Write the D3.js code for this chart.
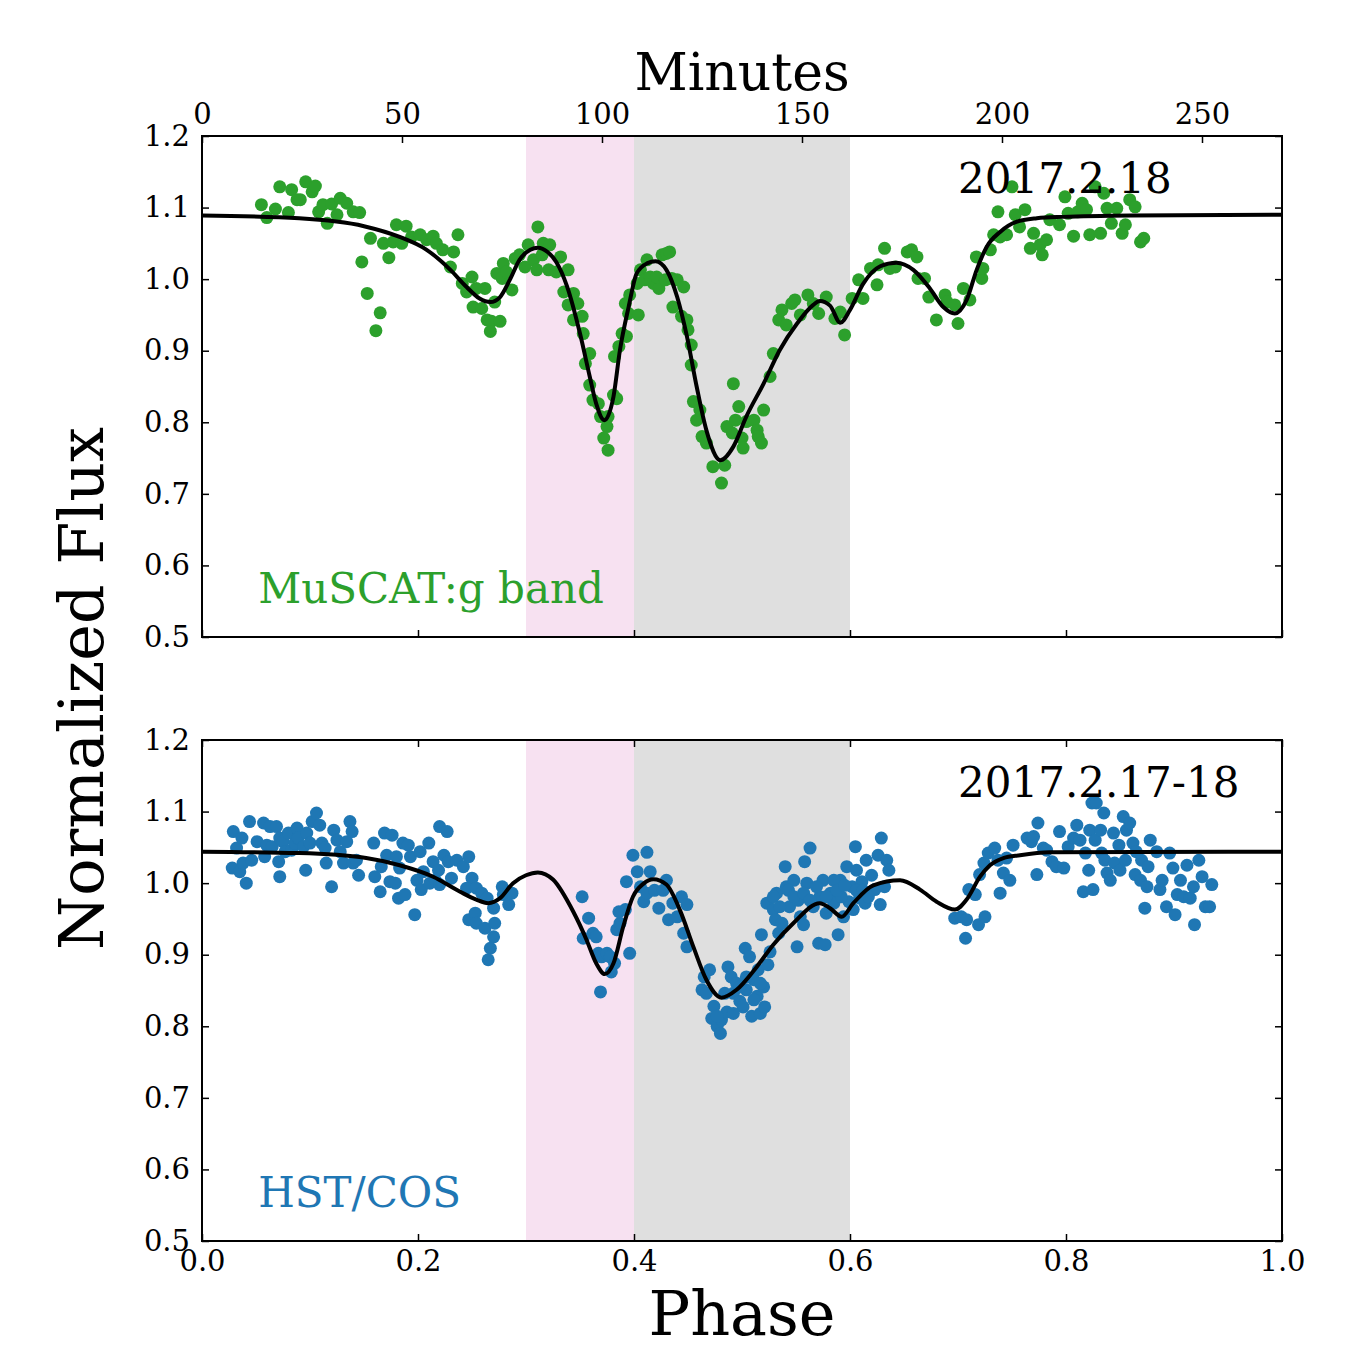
<!DOCTYPE html>
<html>
<head>
<meta charset="utf-8">
<script src="https://cdn.jsdelivr.net/npm/d3@7"></script>
<style>
  body { margin: 0; background: #fff; }
  text { font-family: "DejaVu Serif", serif; }
</style>
</head>
<body>
<svg id="chart" width="1350" height="1350"></svg>
<script>
// ---- chart values (phase, normalized flux) ----
var phaseTicks = [0.0, 0.2, 0.4, 0.6, 0.8, 1.0];
var minuteTicks = [0, 50, 100, 150, 200, 250];
var fluxTicks = [0.5, 0.6, 0.7, 0.8, 0.9, 1.0, 1.1, 1.2];
var pinkSpan = [0.3, 0.4];
var greySpan = [0.4, 0.6];

// MuSCAT g band photometry
var greenPoints = [[0.055,1.104],[0.060,1.086],[0.068,1.098],[0.072,1.129],[0.080,1.093],[0.083,1.125],[0.088,1.111],[0.091,1.111],[0.096,1.136],[0.102,1.122],[0.105,1.130],[0.108,1.094],[0.112,1.104],[0.116,1.078],[0.120,1.105],[0.125,1.090],[0.128,1.113],[0.134,1.106],[0.140,1.094],[0.146,1.093],[0.148,1.024],[0.156,1.057],[0.153,0.980],[0.165,0.953],[0.161,0.928],[0.168,1.050],[0.173,1.030],[0.177,1.052],[0.180,1.076],[0.185,1.050],[0.189,1.074],[0.194,1.059],[0.202,1.062],[0.208,1.055],[0.214,1.060],[0.217,1.050],[0.223,1.041],[0.233,1.038],[0.237,1.062],[0.230,1.017],[0.241,0.994],[0.250,1.003],[0.245,0.982],[0.254,0.987],[0.262,0.987],[0.251,0.961],[0.259,0.959],[0.264,0.943],[0.268,0.941],[0.267,0.927],[0.276,0.941],[0.271,0.968],[0.273,1.008],[0.278,1.001],[0.279,1.022],[0.287,0.985],[0.290,1.029],[0.294,1.034],[0.299,1.017],[0.302,1.048],[0.307,1.027],[0.310,1.013],[0.311,1.073],[0.316,1.050],[0.322,1.048],[0.321,1.013],[0.332,1.031],[0.328,1.010],[0.315,1.034],[0.282,1.010],[0.339,1.013],[0.335,0.982],[0.344,0.980],[0.339,0.964],[0.348,0.966],[0.344,0.943],[0.352,0.948],[0.353,0.924],[0.359,0.896],[0.355,0.882],[0.359,0.852],[0.362,0.831],[0.367,0.826],[0.369,0.808],[0.376,0.808],[0.375,0.794],[0.372,0.778],[0.376,0.761],[0.381,0.838],[0.384,0.833],[0.382,0.892],[0.386,0.906],[0.389,0.924],[0.393,0.920],[0.392,0.966],[0.396,0.978],[0.395,0.952],[0.404,0.950],[0.403,0.994],[0.406,1.013],[0.412,1.027],[0.410,0.999],[0.415,1.003],[0.418,0.994],[0.423,0.987],[0.421,1.003],[0.426,1.034],[0.430,1.036],[0.433,1.038],[0.429,0.999],[0.435,1.001],[0.440,0.999],[0.446,0.989],[0.436,0.961],[0.444,0.948],[0.449,0.943],[0.450,0.929],[0.453,0.908],[0.453,0.880],[0.455,0.829],[0.458,0.803],[0.461,0.817],[0.463,0.780],[0.467,0.771],[0.473,0.738],[0.481,0.715],[0.484,0.740],[0.486,0.794],[0.491,0.785],[0.492,0.854],[0.494,0.803],[0.497,0.822],[0.500,0.778],[0.501,0.764],[0.504,0.801],[0.511,0.803],[0.514,0.789],[0.515,0.780],[0.518,0.771],[0.520,0.817],[0.526,0.864],[0.529,0.896],[0.534,0.943],[0.537,0.957],[0.541,0.936],[0.546,0.966],[0.549,0.971],[0.554,0.950],[0.561,0.978],[0.566,0.966],[0.571,0.952],[0.578,0.975],[0.586,0.945],[0.591,0.954],[0.595,0.922],[0.602,0.973],[0.608,0.999],[0.612,0.973],[0.619,1.015],[0.625,0.992],[0.632,1.043],[0.626,1.020],[0.637,1.015],[0.642,1.017],[0.653,1.038],[0.657,1.041],[0.662,1.031],[0.663,1.001],[0.669,1.001],[0.673,0.975],[0.680,0.943],[0.688,0.978],[0.690,0.968],[0.697,0.964],[0.700,0.938],[0.705,0.987],[0.711,0.971],[0.722,1.001],[0.723,1.015],[0.717,1.031],[0.730,1.041],[0.733,1.062],[0.739,1.059],[0.737,1.094],[0.745,1.062],[0.750,1.129],[0.753,1.090],[0.757,1.073],[0.762,1.097],[0.767,1.043],[0.770,1.064],[0.776,1.048],[0.778,1.034],[0.782,1.055],[0.785,1.083],[0.794,1.076],[0.799,1.115],[0.802,1.092],[0.807,1.060],[0.811,1.094],[0.815,1.106],[0.819,1.097],[0.822,1.062],[0.827,1.129],[0.832,1.064],[0.835,1.120],[0.838,1.099],[0.842,1.078],[0.847,1.099],[0.852,1.064],[0.855,1.076],[0.859,1.111],[0.864,1.101],[0.869,1.052],[0.872,1.057]];

// HST/COS light curve
var bluePoints = [[0.029,1.072],[0.032,1.049],[0.028,1.021],[0.035,1.016],[0.041,1.000],[0.037,1.063],[0.038,1.028],[0.044,1.086],[0.046,1.032],[0.051,1.058],[0.057,1.084],[0.058,1.037],[0.060,1.053],[0.065,1.051],[0.063,1.079],[0.069,1.079],[0.071,1.030],[0.072,1.009],[0.072,1.063],[0.075,1.058],[0.077,1.044],[0.080,1.070],[0.083,1.046],[0.088,1.077],[0.086,1.056],[0.089,1.063],[0.094,1.051],[0.097,1.070],[0.096,1.018],[0.100,1.056],[0.102,1.086],[0.106,1.098],[0.109,1.081],[0.111,1.056],[0.114,1.049],[0.115,1.028],[0.120,0.995],[0.122,1.074],[0.125,1.060],[0.128,1.044],[0.131,1.028],[0.134,1.058],[0.137,1.086],[0.139,1.072],[0.140,1.028],[0.145,1.011],[0.143,1.032],[0.159,1.056],[0.160,1.009],[0.165,0.988],[0.166,1.023],[0.169,1.070],[0.171,1.039],[0.174,1.002],[0.176,1.067],[0.179,1.000],[0.180,1.037],[0.182,0.979],[0.183,1.021],[0.186,1.056],[0.188,0.984],[0.191,1.053],[0.193,1.037],[0.197,0.956],[0.199,1.004],[0.202,1.044],[0.203,0.991],[0.205,1.016],[0.210,1.056],[0.211,1.000],[0.214,1.030],[0.216,1.004],[0.219,1.018],[0.220,1.079],[0.220,0.998],[0.227,1.072],[0.224,1.039],[0.228,1.030],[0.231,1.007],[0.236,1.032],[0.242,1.023],[0.247,1.037],[0.250,1.007],[0.245,0.993],[0.254,0.993],[0.259,0.986],[0.247,0.949],[0.253,0.958],[0.254,0.944],[0.262,0.937],[0.264,0.979],[0.270,0.965],[0.271,0.944],[0.270,0.925],[0.267,0.909],[0.265,0.893],[0.278,0.995],[0.279,0.984],[0.284,0.970],[0.287,0.986],
  [0.352,0.981],[0.358,0.951],[0.353,0.923],[0.362,0.930],[0.365,0.925],[0.367,0.902],[0.370,0.897],[0.375,0.902],[0.378,0.897],[0.379,0.876],[0.382,0.888],[0.369,0.848],[0.384,0.935],[0.387,0.944],[0.386,0.960],[0.392,0.963],[0.396,0.902],[0.393,1.002],[0.399,1.039],[0.403,1.016],[0.412,1.043],[0.406,0.995],[0.409,0.974],[0.412,0.986],[0.415,1.016],[0.419,0.990],[0.423,0.965],[0.427,0.990],[0.430,1.004],[0.432,0.949],[0.436,0.972],[0.440,0.953],[0.444,0.981],[0.449,0.970],[0.446,0.930],[0.449,0.911],[0.463,0.851],[0.465,0.869],[0.467,0.846],[0.470,0.879],[0.472,0.811],[0.477,0.800],[0.480,0.790],[0.481,0.809],[0.486,0.820],[0.487,0.883],[0.490,0.869],[0.492,0.846],[0.495,0.860],[0.498,0.835],[0.501,0.827],[0.503,0.909],[0.504,0.851],[0.507,0.897],[0.509,0.814],[0.511,0.865],[0.514,0.842],[0.515,0.879],[0.517,0.818],[0.518,0.928],[0.520,0.855],[0.521,0.827],[0.523,0.972],[0.524,0.886],[0.526,0.904],[0.529,0.963],[0.531,0.949],[0.532,0.986],[0.534,0.930],[0.537,0.944],[0.540,1.023],[0.541,0.995],[0.544,0.967],[0.548,1.004],[0.551,0.911],[0.552,0.976],[0.554,0.953],[0.557,0.942],[0.558,1.030],[0.560,1.000],[0.563,1.049],[0.566,0.967],[0.571,0.916],[0.572,0.981],[0.575,1.004],[0.577,0.914],[0.578,0.958],[0.582,0.986],[0.585,0.972],[0.589,0.928],[0.591,1.004],[0.594,0.953],[0.597,1.023],[0.599,0.974],[0.602,0.995],[0.605,1.051],[0.606,1.018],[0.609,0.979],[0.611,1.002],[0.614,0.972],[0.615,1.032],[0.620,1.011],[0.623,0.991],[0.626,1.039],[0.628,0.970],[0.629,1.063],[0.632,0.995],[0.634,1.032],[0.636,1.018],[0.585,1.004],[0.592,0.981],[0.603,0.963],
  [0.529,0.981],[0.535,0.967],[0.543,0.990],[0.548,0.981],[0.557,0.986],[0.563,0.976],[0.569,0.995],[0.578,0.981],[0.588,0.990],[0.595,0.997],[0.606,0.990],[0.612,0.990],[0.617,0.981],[0.498,0.855],[0.504,0.869],[0.511,0.837],[0.517,0.860],[0.492,0.818],[0.484,0.846],[0.474,0.828],[0.477,0.814],
  [0.697,0.951],[0.707,0.923],[0.703,0.953],[0.708,0.949],[0.719,0.942],[0.725,0.953],[0.710,0.991],[0.716,0.984],[0.720,1.012],[0.724,1.028],[0.728,1.042],[0.734,1.049],[0.737,1.032],[0.742,1.014],[0.739,0.986],[0.748,1.004],[0.745,1.035],[0.751,1.053],[0.764,1.063],[0.768,1.058],[0.770,1.065],[0.773,1.012],[0.774,1.084],[0.779,1.049],[0.782,1.046],[0.787,1.030],[0.791,1.023],[0.794,1.072],[0.798,1.021],[0.802,1.051],[0.807,1.063],[0.810,1.081],[0.813,1.060],[0.816,0.988],[0.818,1.042],[0.821,1.018],[0.822,1.074],[0.825,0.991],[0.827,1.060],[0.832,1.074],[0.833,1.042],[0.835,1.098],[0.836,1.032],[0.838,1.014],[0.841,1.004],[0.844,1.070],[0.845,1.028],[0.849,1.053],[0.850,1.018],[0.853,1.093],[0.855,1.032],[0.856,1.074],[0.859,1.084],[0.862,1.056],[0.864,1.012],[0.865,1.044],[0.869,1.004],[0.870,1.032],[0.873,0.965],[0.875,0.995],[0.876,1.023],[0.878,1.060],[0.884,1.044],[0.887,0.991],[0.889,1.004],[0.893,0.967],[0.896,1.042],[0.899,1.021],[0.901,0.956],[0.903,0.984],[0.906,1.004],[0.909,0.981],[0.912,1.025],[0.915,0.979],[0.918,0.995],[0.919,0.942],[0.923,1.032],[0.926,1.009],[0.929,0.967],[0.933,0.967],[0.935,0.998],[0.824,1.112],[0.828,1.112]];

// model light curves
var greenModel = [[0,1.089],[0.09,1.085],[0.15,1.074],[0.183,1.059],[0.208,1.041],[0.23,1.013],[0.245,0.989],[0.257,0.973],[0.267,0.968],[0.276,0.975],[0.285,0.999],[0.294,1.027],[0.304,1.041],[0.311,1.044],[0.32,1.038],[0.328,1.024],[0.338,0.99],[0.35,0.924],[0.359,0.864],[0.365,0.826],[0.3725,0.803],[0.381,0.836],[0.387,0.901],[0.395,0.961],[0.4025,1.008],[0.412,1.022],[0.42,1.025],[0.43,1.013],[0.44,0.975],[0.449,0.92],[0.458,0.85],[0.467,0.789],[0.48,0.747],[0.492,0.766],[0.504,0.808],[0.52,0.854],[0.535,0.901],[0.551,0.938],[0.566,0.964],[0.572,0.9695],[0.5815,0.963],[0.591,0.939],[0.6,0.957],[0.612,0.993],[0.628,1.018],[0.643,1.023],[0.6586,1.013],[0.674,0.987],[0.6864,0.961],[0.697,0.952],[0.708,0.971],[0.7173,1.013],[0.7265,1.045],[0.739,1.066],[0.754,1.080],[0.773,1.085],[0.797,1.087],[0.86,1.089],[1.0,1.090]];
var blueModel = [[0,1.044],[0.09,1.042],[0.152,1.035],[0.183,1.025],[0.214,1.009],[0.239,0.988],[0.254,0.977],[0.265,0.972],[0.276,0.979],[0.288,1.000],[0.3,1.011],[0.311,1.015],[0.325,1.005],[0.3438,0.960],[0.356,0.921],[0.365,0.888],[0.373,0.873],[0.381,0.888],[0.390,0.939],[0.399,0.981],[0.4086,0.999],[0.418,1.0054],[0.43,0.998],[0.4426,0.962],[0.455,0.911],[0.467,0.865],[0.481,0.840],[0.495,0.851],[0.5136,0.883],[0.529,0.914],[0.5475,0.944],[0.572,0.972],[0.5815,0.965],[0.5923,0.953],[0.6031,0.972],[0.6216,0.997],[0.6463,1.004],[0.6648,0.991],[0.6802,0.974],[0.6972,0.963],[0.708,0.977],[0.7204,1.009],[0.7296,1.025],[0.742,1.035],[0.7574,1.039],[0.785,1.043],[0.95,1.044],[1.0,1.044]];

// ---- layout ----
var svg = d3.select('#chart');
var plotLeft = 202, plotRight = 1282;

var xScale = d3.scaleLinear().domain([0, 1]).range([plotLeft, plotRight]);
var minuteScale = d3.scaleLinear().domain([0, 270]).range([plotLeft, plotRight]);

var panels = [
  {top: 136, bottom: 637, points: greenPoints, model: greenModel, color: '#2ca02c',
   band: 'MuSCAT:g band', date: '2017.2.18', topAxis: 'minutes', bottomLabels: false},
  {top: 740, bottom: 1241, points: bluePoints, model: blueModel, color: '#1f77b4',
   band: 'HST/COS', date: '2017.2.17-18', topAxis: 'phase', bottomLabels: true}
];

var tickFont = '29px';

function styleAxis(g) {
  g.select('.domain').remove();
  g.selectAll('.tick line').attr('stroke', '#000').attr('stroke-width', 1.5);
  g.selectAll('.tick text')
    .attr('fill', '#000')
    .style('font-family', '"DejaVu Serif", serif')
    .style('font-size', tickFont);
}

panels.forEach(function (p) {
  var yScale = d3.scaleLinear().domain([0.5, 1.2]).range([p.bottom, p.top]);
  var g = svg.append('g');

  // shaded phase intervals
  g.append('rect')
    .attr('x', xScale(pinkSpan[0]))
    .attr('y', p.top)
    .attr('width', xScale(pinkSpan[1]) - xScale(pinkSpan[0]))
    .attr('height', p.bottom - p.top)
    .attr('fill', '#f7e1f1');
  g.append('rect')
    .attr('x', xScale(greySpan[0]))
    .attr('y', p.top)
    .attr('width', xScale(greySpan[1]) - xScale(greySpan[0]))
    .attr('height', p.bottom - p.top)
    .attr('fill', '#dfdfdf');

  // data points
  g.append('g').selectAll('circle')
    .data(p.points)
    .enter()
    .append('circle')
    .attr('cx', function (d) { return xScale(d[0]); })
    .attr('cy', function (d) { return yScale(d[1]); })
    .attr('r', 6.5)
    .attr('fill', p.color);

  // model curve
  var lineGenerator = d3.line()
    .x(function (d) { return xScale(d[0]); })
    .y(function (d) { return yScale(d[1]); })
    .curve(d3.curveMonotoneX);

  g.append('path')
    .attr('d', lineGenerator(p.model))
    .attr('fill', 'none')
    .attr('stroke', '#000')
    .attr('stroke-width', 4);

  // axes, ticks pointing inward
  g.append('g')
    .attr('transform', 'translate(' + plotLeft + ',0)')
    .call(d3.axisLeft(yScale).tickValues(fluxTicks).tickFormat(d3.format('.1f'))
      .tickSizeInner(-7).tickSizeOuter(0).tickPadding(12))
    .call(styleAxis);

  g.append('g')
    .attr('transform', 'translate(' + plotRight + ',0)')
    .call(d3.axisRight(yScale).tickValues(fluxTicks).tickFormat('')
      .tickSizeInner(-7).tickSizeOuter(0))
    .call(styleAxis);

  var topAxis = p.topAxis === 'minutes'
    ? d3.axisTop(minuteScale).tickValues(minuteTicks).tickFormat(d3.format('d')).tickPadding(12)
    : d3.axisTop(xScale).tickValues(phaseTicks).tickFormat('');
  g.append('g')
    .attr('transform', 'translate(0,' + p.top + ')')
    .call(topAxis.tickSizeInner(-7).tickSizeOuter(0))
    .call(styleAxis);

  var bottomAxis = d3.axisBottom(xScale).tickValues(phaseTicks)
    .tickFormat(p.bottomLabels ? d3.format('.1f') : '')
    .tickSizeInner(-7).tickSizeOuter(0).tickPadding(9);
  g.append('g')
    .attr('transform', 'translate(0,' + p.bottom + ')')
    .call(bottomAxis)
    .call(styleAxis);

  // frame
  g.append('rect')
    .attr('x', plotLeft)
    .attr('y', p.top)
    .attr('width', plotRight - plotLeft)
    .attr('height', p.bottom - p.top)
    .attr('fill', 'none')
    .attr('stroke', '#000')
    .attr('stroke-width', 2);

  // annotations
  g.append('text')
    .attr('x', xScale(0.7))
    .attr('y', yScale(1.12))
    .style('font-size', '42px')
    .attr('fill', '#000')
    .text(p.date);

  g.append('text')
    .attr('x', xScale(0.052))
    .attr('y', yScale(0.547))
    .style('font-size', '42px')
    .attr('fill', p.color)
    .text(p.band);
});

// axis titles
svg.append('text')
  .attr('x', (plotLeft + plotRight) / 2)
  .attr('y', 90)
  .attr('text-anchor', 'middle')
  .style('font-size', '52px')
  .text('Minutes');

svg.append('text')
  .attr('x', (plotLeft + plotRight) / 2)
  .attr('y', 1335)
  .attr('text-anchor', 'middle')
  .style('font-size', '62px')
  .text('Phase');

svg.append('text')
  .attr('transform', 'translate(103,' + ((136 + 1241) / 2) + ') rotate(-90)')
  .attr('text-anchor', 'middle')
  .style('font-size', '62px')
  .text('Normalized Flux');
</script>
</body>
</html>
